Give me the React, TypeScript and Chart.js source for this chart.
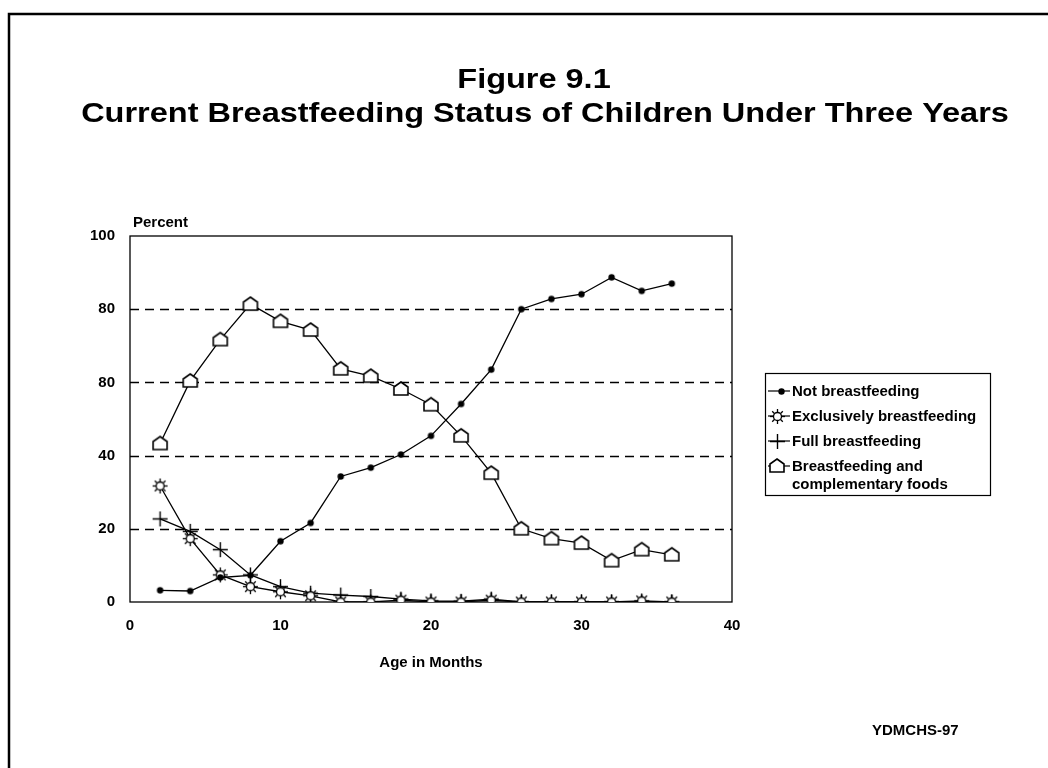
import React, { useEffect, useRef } from "react";
import { Chart, registerables } from "chart.js";

Chart.register(...registerables);

// ---- data ----
const ages = [2, 4, 6, 8, 10, 12, 14, 16, 18, 20, 22, 24, 26, 28, 30, 32, 34, 36];
const notBreastfeeding = [3.2, 3.0, 6.7, 7.3, 16.6, 21.6, 34.3, 36.7, 40.3, 45.4, 54.1, 63.5, 80.0, 82.8, 84.1, 88.7, 85.0, 87.0];
const exclusivelyBreastfeeding = [31.7, 17.3, 7.4, 4.2, 2.8, 1.7, 0, 0, 0.5, 0, 0, 0.5, 0, 0, 0, 0, 0.3, 0];
const fullBreastfeeding = [22.7, 19.3, 14.3, 7.4, 4.2, 2.4, 1.9, 1.5, 0.8, 0.3, 0.2, 0.8, 0, 0, 0, 0, 0, 0];
const complementaryFoods = [43.3, 60.4, 71.7, 81.4, 76.7, 74.3, 63.7, 61.7, 58.2, 53.9, 45.4, 35.2, 20.0, 17.3, 16.1, 11.3, 14.3, 12.9];

const yTickLabels = ["0", "20", "40", "80", "80", "100"];
const xTickLabels = ["0", "10", "20", "30", "40"];

const titleLine1 = "Figure 9.1";
const titleLine2 = "Current Breastfeeding Status of Children Under Three Years";
const yAxisTitle = "Percent";
const xAxisTitle = "Age in Months";
const sourceNote = "YDMCHS-97";
const legendLabels = [
  ["Not breastfeeding"],
  ["Exclusively breastfeeding"],
  ["Full breastfeeding"],
  ["Breastfeeding and", "complementary foods"],
];

const FONT = '"Liberation Sans", Arial, sans-serif';

function makeCanvas(size: number, draw: (ctx: CanvasRenderingContext2D, c: number) => void) {
  const cv = document.createElement("canvas");
  cv.width = size;
  cv.height = size;
  const ctx = cv.getContext("2d")!;
  draw(ctx, size / 2);
  return cv;
}

function makeMarkers() {
  const dot = makeCanvas(9, (ctx, c) => {
    ctx.fillStyle = "#000";
    ctx.beginPath();
    ctx.arc(c, c, 3.2, 0, Math.PI * 2);
    ctx.fill();
  });
  const sun = makeCanvas(17, (ctx, c) => {
    ctx.strokeStyle = "#000";
    ctx.lineWidth = 1.3;
    for (let k = 0; k < 8; k++) {
      const a = (k * Math.PI) / 4;
      ctx.beginPath();
      ctx.moveTo(c + Math.cos(a) * 4, c + Math.sin(a) * 4);
      ctx.lineTo(c + Math.cos(a) * 7.5, c + Math.sin(a) * 7.5);
      ctx.stroke();
    }
    ctx.fillStyle = "#fff";
    ctx.beginPath();
    ctx.arc(c, c, 4, 0, Math.PI * 2);
    ctx.fill();
    ctx.stroke();
  });
  const plus = makeCanvas(17, (ctx, c) => {
    ctx.strokeStyle = "#000";
    ctx.lineWidth = 1.4;
    ctx.beginPath();
    ctx.moveTo(c - 7.5, c);
    ctx.lineTo(c + 7.5, c);
    ctx.moveTo(c, c - 7.5);
    ctx.lineTo(c, c + 7.5);
    ctx.stroke();
  });
  const house = makeCanvas(18, (ctx, c) => {
    ctx.strokeStyle = "#000";
    ctx.fillStyle = "#fff";
    ctx.lineWidth = 1.6;
    ctx.beginPath();
    ctx.moveTo(c, c - 7);
    ctx.lineTo(c + 7, c - 2);
    ctx.lineTo(c + 7, c + 6);
    ctx.lineTo(c - 7, c + 6);
    ctx.lineTo(c - 7, c - 2);
    ctx.closePath();
    ctx.fill();
    ctx.stroke();
  });
  return [dot, sun, plus, house];
}

export default function App() {
  const ref = useRef<HTMLCanvasElement | null>(null);

  useEffect(() => {
    const canvas = ref.current;
    if (!canvas) return;
    const markers = makeMarkers();
    const series = [notBreastfeeding, exclusivelyBreastfeeding, fullBreastfeeding, complementaryFoods];

    const decor = {
      id: "decor",
      beforeDraw(chart: any) {
        const ctx = chart.ctx as CanvasRenderingContext2D;
        ctx.save();
        ctx.fillStyle = "#fff";
        ctx.fillRect(0, 0, chart.width, chart.height);
        // page frame
        ctx.strokeStyle = "#000";
        ctx.lineWidth = 2.5;
        ctx.beginPath();
        ctx.moveTo(9, 768);
        ctx.lineTo(9, 14);
        ctx.lineTo(1048, 14);
        ctx.stroke();
        ctx.restore();
      },
      beforeDatasetsDraw(chart: any) {
        const ctx = chart.ctx as CanvasRenderingContext2D;
        const { left, right, top, bottom } = chart.chartArea;
        const y = chart.scales.y;
        ctx.save();
        ctx.strokeStyle = "#000";
        ctx.lineWidth = 1.3;
        ctx.setLineDash([9, 6]);
        y.ticks.forEach((t: any) => {
          if (t.value > y.min && t.value < y.max) {
            const py = Math.round(y.getPixelForValue(t.value)) + 0.5;
            ctx.beginPath();
            ctx.moveTo(left, py);
            ctx.lineTo(right, py);
            ctx.stroke();
          }
        });
        ctx.setLineDash([]);
        ctx.lineWidth = 1.3;
        ctx.strokeRect(left, top, right - left, bottom - top);
        ctx.restore();
      },
      afterDraw(chart: any) {
        const ctx = chart.ctx as CanvasRenderingContext2D;
        const { left, right } = chart.chartArea;
        ctx.save();
        ctx.fillStyle = "#000";
        // titles
        ctx.font = `bold 28px ${FONT}`;
        ctx.textAlign = "center";
        ctx.textBaseline = "alphabetic";
        const drawStretched = (text: string, cx: number, by: number) => {
          ctx.save();
          ctx.translate(cx, by);
          ctx.scale(1.16, 1);
          ctx.fillText(text, 0, 0);
          ctx.restore();
        };
        drawStretched(titleLine1, 534, 88);
        drawStretched(titleLine2, 545, 122);

        ctx.font = `bold 15px ${FONT}`;
        ctx.textAlign = "left";
        ctx.fillText(yAxisTitle, left + 3, 227);
        ctx.textAlign = "center";
        ctx.fillText(xAxisTitle, (left + right) / 2, 667);
        ctx.textAlign = "left";
        ctx.fillText(sourceNote, 872, 735);

        // legend
        ctx.lineWidth = 1.2;
        ctx.strokeStyle = "#000";
        ctx.strokeRect(765.5, 373.5, 225, 122);
        const baselines = [396, 421, 446, 471];
        legendLabels.forEach((lines, i) => {
          const by = baselines[i];
          const my = by - 5;
          ctx.beginPath();
          ctx.moveTo(768, my);
          ctx.lineTo(790, my);
          ctx.stroke();
          const m = markers[i];
          const mx = i === 0 ? 781 : 777;
          ctx.drawImage(m, Math.round(mx - m.width / 2), Math.round(my - m.height / 2));
          lines.forEach((ln, j) => {
            ctx.fillText(ln, 792, by + j * 18);
          });
        });
        ctx.restore();
      },
    };

    const chart = new Chart(canvas, {
      type: "line",
      data: {
        datasets: series.map((vals, i) => ({
          label: legendLabels[i].join(" "),
          data: ages.map((a, k) => ({ x: a, y: vals[k] })),
          borderColor: "#000",
          borderWidth: 1.3,
          backgroundColor: "#000",
          pointStyle: markers[i] as any,
          pointRadius: 4,
          tension: 0,
          fill: false,
        })),
      },
      options: {
        responsive: false,
        animation: false,
        events: [],
        layout: { padding: { left: 0, top: 236, right: 316, bottom: 126 } },
        plugins: {
          legend: { display: false },
          tooltip: { enabled: false },
          title: { display: false },
        },
        scales: {
          x: {
            type: "linear",
            min: 0,
            max: 40,
            ticks: {
              stepSize: 10,
              color: "#000",
              padding: 15,
              maxRotation: 0,
              font: { family: FONT, size: 15, weight: "bold" },
              callback: (_v: any, idx: number) => xTickLabels[idx],
            },
            grid: { display: false, drawTicks: false },
            border: { display: false },
            afterFit: (s: any) => {
              s.height = 40;
            },
          },
          y: {
            type: "linear",
            min: 0,
            max: 100,
            ticks: {
              stepSize: 20,
              color: "#000",
              padding: 15,
              font: { family: FONT, size: 15, weight: "bold" },
              callback: (_v: any, idx: number) => yTickLabels[idx],
            },
            grid: { display: false, drawTicks: false },
            border: { display: false },
            afterFit: (s: any) => {
              s.width = 130;
            },
          },
        },
      } as any,
      plugins: [decor],
    });

    return () => chart.destroy();
  }, []);

  return (
    <div style={{ position: "absolute", left: 0, top: 0, width: 1048, height: 768, background: "#fff" }}>
      <canvas ref={ref} width={1048} height={768} style={{ display: "block" }} />
    </div>
  );
}
